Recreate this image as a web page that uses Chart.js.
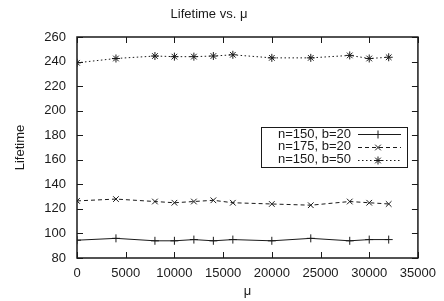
<!DOCTYPE html>
<html>
<head>
<meta charset="utf-8">
<script src="https://cdn.jsdelivr.net/npm/chart.js@4/dist/chart.umd.min.js"></script>
<style>
  html, body { margin: 0; padding: 0; background: #fff; }
  #wrap { width: 444px; height: 301px; }
</style>
</head>
<body>
<div id="wrap"><canvas id="myChart" width="444" height="301"></canvas></div>
<script>
// data
const mu = [0, 4000, 8000, 10000, 12000, 14000, 16000, 20000, 24000, 28000, 30000, 32000];
const lifeN150b20 = [94.5, 96, 94, 94, 95, 94, 95, 94, 96, 94, 95, 95];
const lifeN175b20 = [126.5, 128, 126, 125, 126, 127, 125, 124, 123, 126, 125, 124];
const lifeN150b50 = [239, 242.5, 244.5, 244, 244, 244.5, 245.5, 243, 243, 245, 242.5, 243.5];
const seriesLabels = ["n=150, b=20", "n=175, b=20", "n=150, b=50"];
const xTicks = [0, 5000, 10000, 15000, 20000, 25000, 30000, 35000];
const yTicks = [80, 100, 120, 140, 160, 180, 200, 220, 240, 260];

const font = "'Liberation Sans', Arial, Helvetica, sans-serif";
const ink = "#1a1a1a";

const toPoints = (ys) => mu.map((x, i) => ({ x: x, y: ys[i] }));

function makeSet(label, ys, style, dash) {
  return {
    label: label,
    data: toPoints(ys),
    showLine: true,
    borderColor: ink,
    backgroundColor: ink,
    borderWidth: 1,
    borderDash: dash,
    pointStyle: style,
    pointRadius: 4,
    pointBorderWidth: 1,
    pointBorderColor: ink,
    pointHoverRadius: 4
  };
}

// gnuplot style: frame all round, ticks pointing inward
const framePlugin = {
  id: "frame",
  afterDatasetsDraw(chart) {
    const { ctx, chartArea: a, scales } = chart;
    ctx.save();
    ctx.strokeStyle = ink;
    ctx.lineWidth = 1;
    const len = 6;
    ctx.beginPath();
    xTicks.forEach((v) => {
      const px = Math.round(scales.x.getPixelForValue(v)) + 0.5;
      ctx.moveTo(px, a.bottom); ctx.lineTo(px, a.bottom - len);
      ctx.moveTo(px, a.top); ctx.lineTo(px, a.top + len);
    });
    yTicks.forEach((v) => {
      const py = Math.round(scales.y.getPixelForValue(v)) + 0.5;
      ctx.moveTo(a.left, py); ctx.lineTo(a.left + len, py);
      ctx.moveTo(a.right, py); ctx.lineTo(a.right - len, py);
    });
    ctx.stroke();
    ctx.lineWidth = 1.5;
    ctx.strokeRect(a.left, a.top, a.right - a.left, a.bottom - a.top);
    ctx.restore();
  },
  afterDraw(chart) {
    // legend box like gnuplot's key
    const { ctx, chartArea: a } = chart;
    const bx = a.left + 184, by = a.top + 90, bw = 146, bh = 40;
    ctx.save();
    ctx.fillStyle = "#fff";
    ctx.fillRect(bx, by, bw, bh);
    ctx.strokeStyle = ink;
    ctx.lineWidth = 1;
    ctx.strokeRect(bx + 0.5, by + 0.5, bw, bh);
    ctx.font = "13px " + font;
    ctx.textAlign = "right";
    ctx.textBaseline = "middle";
    chart.data.datasets.forEach((ds, i) => {
      const y = by + 7 + i * 12.8;
      ctx.fillStyle = ink;
      ctx.fillText(ds.label, bx + 90, y);
      ctx.beginPath();
      ctx.setLineDash(ds.borderDash);
      ctx.moveTo(bx + 97, Math.round(y) + 0.5);
      ctx.lineTo(bx + 140, Math.round(y) + 0.5);
      ctx.stroke();
      ctx.setLineDash([]);
      Chart.helpers.drawPoint(ctx, {
        pointStyle: ds.pointStyle, radius: 4, borderWidth: 1
      }, bx + 117, Math.round(y) + 0.5);
    });
    ctx.restore();
  }
};

new Chart(document.getElementById("myChart"), {
  type: "scatter",
  data: {
    datasets: [
      makeSet(seriesLabels[0], lifeN150b20, "cross", []),
      makeSet(seriesLabels[1], lifeN175b20, "crossRot", [4, 3]),
      makeSet(seriesLabels[2], lifeN150b50, "star", [1.5, 2.5])
    ]
  },
  options: {
    responsive: false,
    animation: false,
    events: [],
    layout: { padding: { left: 0, right: 26, top: 0, bottom: 0 } },
    plugins: {
      legend: { display: false },
      tooltip: { enabled: false },
      title: {
        display: true,
        text: "Lifetime vs. \u03bc",
        color: ink,
        font: { family: font, size: 13, weight: "normal" },
        padding: { top: 7, bottom: 14.4 }
      }
    },
    scales: {
      x: {
        type: "linear",
        min: 0,
        max: 35000,
        afterBuildTicks: (s) => { s.ticks = xTicks.map((v) => ({ value: v })); },
        afterFit: (s) => { s.height = 43; },
        grid: { display: false, drawTicks: false },
        border: { display: false },
        ticks: { color: ink, font: { family: font, size: 13 }, padding: 8, maxRotation: 0, callback: (v) => String(v) },
        title: { display: true, text: "\u03bc", color: ink, font: { family: font, size: 13 }, padding: { top: 2, bottom: 2 } }
      },
      y: {
        type: "linear",
        min: 80,
        max: 260,
        afterBuildTicks: (s) => { s.ticks = yTicks.map((v) => ({ value: v })); },
        afterFit: (s) => { s.width = 77; },
        grid: { display: false, drawTicks: false },
        border: { display: false },
        ticks: { color: ink, font: { family: font, size: 13 }, padding: 11, callback: (v) => String(v) },
        title: { display: true, text: "Lifetime", color: ink, font: { family: font, size: 13 }, padding: { top: 13, bottom: 0 } }
      }
    }
  },
  plugins: [framePlugin]
});
</script>
</body>
</html>
